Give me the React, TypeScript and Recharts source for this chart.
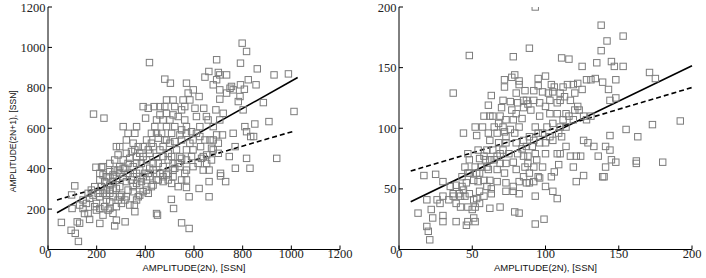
import React from 'react';
import {
  ScatterChart,
  Scatter,
  XAxis,
  YAxis,
  ReferenceLine,
  Label,
} from 'recharts';

// left panel: amplitude (2N) vs (2N+1), SSN
const leftPoints: [number, number][] = [
  [55, 134], [95, 95], [112, 80], [125, 40], [110, 315], [97, 270], [99, 203], [120, 137], [130, 130],
  [150, 178], [171, 149], [187, 670], [230, 650], [197, 407], [220, 407], [213, 129], [199, 228],
  [213, 261], [240, 245], [254, 278], [267, 179], [281, 145], [274, 117], [317, 137], [357, 187],
  [355, 220], [417, 925], [480, 843], [503, 823], [446, 178], [450, 170], [507, 248], [516, 203],
  [549, 132], [580, 104], [569, 307], [580, 261], [621, 302], [662, 393], [662, 336], [662, 261],
  [693, 939], [700, 876], [706, 864], [734, 864], [645, 853], [661, 881], [791, 922], [798, 1021],
  [816, 980], [823, 840], [855, 815], [860, 894], [929, 864], [988, 869], [1011, 683], [940, 451],
  [908, 633], [885, 727], [850, 621], [845, 559], [833, 559], [816, 451], [830, 402], [770, 402],
  [745, 460], [769, 509], [761, 575], [809, 608], [816, 583], [802, 691], [789, 757], [791, 815],
  [782, 732], [807, 793], [754, 807], [761, 790], [748, 798], [734, 774], [706, 790], [693, 840],
  [679, 815], [706, 744], [706, 641], [717, 567], [709, 377], [730, 336], [709, 364], [679, 493],
  [672, 443], [638, 393], [638, 460], [627, 509], [645, 542], [666, 542], [679, 542], [700, 526],
  [690, 691], [720, 674], [640, 699], [651, 658], [610, 658], [621, 757], [597, 790], [569, 823],
  [576, 774], [583, 740], [604, 699], [555, 740], [549, 691], [562, 707], [521, 707], [514, 740],
  [487, 740], [480, 707], [460, 707], [436, 707], [391, 707], [412, 699], [401, 650], [364, 608],
  [357, 575], [329, 575], [309, 608], [322, 542], [357, 493], [336, 451], [295, 509], [281, 509],
  [288, 468], [274, 443], [254, 426], [247, 360], [267, 369], [288, 393], [316, 402], [309, 360],
  [329, 377], [343, 344], [364, 327], [384, 336], [398, 377], [418, 402], [432, 426], [446, 460],
  [460, 493], [473, 509], [487, 542], [508, 575], [521, 608], [535, 658], [562, 641], [569, 575],
  [549, 542], [528, 493], [508, 460], [494, 443], [473, 410], [460, 377], [446, 344], [425, 311],
  [412, 278], [391, 286], [371, 261], [350, 286], [329, 294], [302, 269], [281, 302], [254, 319],
  [233, 336], [213, 344], [220, 311], [192, 311], [178, 294], [171, 253], [192, 212], [213, 203],
  [233, 212], [247, 195], [226, 170], [199, 195], [158, 228], [144, 245], [130, 220], [144, 203],
  [165, 178], [254, 236], [267, 261], [288, 245], [316, 245], [336, 220], [364, 245], [377, 269],
  [405, 294], [432, 319], [453, 344], [473, 360], [494, 377], [514, 393], [542, 410], [569, 443],
  [590, 460], [596, 493], [583, 526], [569, 493], [542, 460], [514, 426], [494, 476], [473, 460],
  [453, 426], [432, 393], [412, 377], [391, 360], [377, 393], [364, 426], [377, 476], [391, 509],
  [405, 542], [425, 575], [439, 608], [446, 641], [460, 666], [473, 641], [487, 608], [501, 641],
  [514, 666], [487, 674], [446, 575], [425, 526], [412, 493], [391, 460], [371, 509], [350, 526],
  [343, 485], [322, 476], [309, 443], [295, 410], [274, 393], [254, 385], [240, 360], [226, 369],
  [213, 377], [226, 410], [206, 278], [226, 278], [240, 294], [267, 294], [295, 311], [322, 336],
  [350, 360], [364, 377], [562, 377], [549, 344], [569, 344], [535, 311], [569, 393], [596, 410],
  [617, 426], [631, 451], [652, 468], [652, 426], [672, 501], [693, 567], [700, 476], [679, 608],
  [658, 641], [624, 608], [610, 575], [624, 559], [596, 542], [590, 583], [569, 608], [549, 592],
  [542, 567], [521, 534], [501, 526], [480, 542], [467, 575], [453, 551], [432, 509], [418, 476],
  [405, 443], [384, 426], [364, 460], [350, 410], [329, 426], [309, 402], [295, 377], [281, 352],
  [267, 336], [254, 294], [240, 269], [295, 261], [322, 261], [350, 311], [377, 319], [405, 344],
  [418, 360], [446, 377], [473, 336], [494, 344], [514, 360], [487, 369], [508, 327], [521, 402],
  [535, 426], [549, 451], [281, 212], [302, 228], [254, 203], [185, 269], [165, 278],
];

// right panel
const rightPoints: [number, number][] = [
  [13, 30], [17, 61], [19, 19], [20, 15], [21, 8], [25, 62], [30, 56], [37, 129], [44, 96], [48, 160],
  [30, 28], [30, 23], [23, 26], [22, 33], [19, 41], [26, 41], [28, 38], [30, 44], [34, 41], [37, 44],
  [39, 38], [42, 35], [39, 23], [41, 46], [43, 52], [46, 55], [47, 35], [50, 33], [46, 20], [47, 23],
  [51, 26], [52, 23], [53, 42], [55, 48], [54, 56], [51, 57], [48, 63], [52, 68], [55, 75], [54, 82],
  [53, 94], [52, 101], [57, 101], [58, 110], [61, 119], [63, 127], [62, 110], [61, 96], [62, 90],
  [60, 82], [59, 74], [61, 66], [62, 57], [63, 50], [62, 34], [63, 46], [69, 35], [67, 56], [67, 66],
  [65, 74], [69, 79], [68, 88], [67, 96], [68, 104], [69, 110], [70, 117], [71, 123], [72, 140],
  [72, 134], [77, 142], [79, 144], [78, 159], [82, 139], [82, 136], [89, 166], [80, 129], [76, 122],
  [77, 115], [73, 107], [72, 97], [73, 88], [75, 79], [73, 71], [72, 63], [73, 55], [73, 48], [78, 48],
  [78, 52], [82, 46], [79, 31], [82, 30], [82, 56], [80, 66], [78, 72], [81, 79], [80, 88], [79, 96],
  [82, 101], [84, 108], [85, 117], [87, 123], [86, 131], [88, 120], [90, 115], [92, 131], [95, 141],
  [95, 135], [100, 143], [98, 130], [96, 110], [93, 101], [89, 93], [87, 85], [88, 77], [88, 71],
  [89, 63], [92, 56], [89, 55], [95, 60], [93, 44], [93, 21], [99, 25], [96, 59], [100, 52], [98, 68],
  [100, 79], [96, 88], [98, 96], [101, 101], [103, 112], [103, 123], [104, 136], [106, 134], [108, 121],
  [110, 123], [111, 158], [116, 157], [112, 134], [115, 136], [120, 129], [125, 151], [125, 132],
  [128, 140], [131, 140], [134, 141], [135, 154], [138, 164], [138, 185], [139, 138], [142, 172],
  [143, 132], [144, 123], [145, 155], [147, 151], [148, 140], [148, 125], [153, 176], [153, 151],
  [155, 99], [163, 93], [162, 73], [162, 71], [171, 146], [173, 103], [175, 141], [180, 72], [192, 106],
  [93, 200], [144, 94], [141, 85], [144, 82], [145, 74], [148, 72], [141, 68], [140, 60], [139, 60],
  [136, 77], [133, 85], [129, 88], [126, 90], [121, 77], [124, 77], [121, 56], [126, 61], [119, 68],
  [117, 77], [114, 85], [110, 79], [109, 70], [106, 64], [104, 60], [105, 48], [108, 42], [108, 79],
  [105, 90], [109, 96], [111, 93], [114, 101], [116, 110], [120, 115], [122, 118], [123, 115],
  [126, 110], [119, 107], [117, 123], [114, 112], [112, 107], [110, 101], [108, 112], [105, 104],
  [103, 93], [100, 88], [95, 96], [92, 90], [91, 85], [93, 79], [94, 74], [85, 90], [84, 83], [85, 77],
  [86, 68], [85, 60], [87, 55], [92, 68], [73, 93], [71, 82], [69, 71], [67, 77], [64, 82], [62, 74],
  [60, 68], [58, 77], [56, 68], [55, 63], [53, 63], [58, 57], [60, 52], [58, 44], [55, 38], [52, 35],
  [51, 41], [48, 46], [45, 44], [44, 49], [42, 44], [37, 46], [35, 52], [39, 53], [43, 60], [47, 63],
  [45, 68], [48, 74], [47, 79], [65, 101], [64, 110], [71, 101], [76, 99], [78, 107], [80, 112],
  [81, 121], [85, 123], [92, 123], [96, 121], [100, 118], [102, 129], [105, 130], [110, 129],
  [113, 126], [119, 136], [122, 137], [128, 107], [131, 110],
];

// fitted lines (end points)
const leftSolid = [{ x: 37, y: 182 }, { x: 1026, y: 851 }];
const leftDashed = [{ x: 37, y: 245 }, { x: 1015, y: 587 }];
const rightSolid = [{ x: 8, y: 39.4 }, { x: 200, y: 151.5 }];
const rightDashed = [{ x: 8, y: 64.7 }, { x: 200, y: 133.6 }];

const leftTicks = [0, 200, 400, 600, 800, 1000, 1200];
const rightTicks = [0, 50, 100, 150, 200];

const xLabel = 'AMPLITUDE(2N), [SSN]';
const yLabel = 'AMPLITUDE(2N+1), [SSN]';

const tickFont = { fill: '#222', fontSize: 12.5, fontFamily: '"Liberation Serif", serif' };
const labelFont = { fill: '#111', fontFamily: '"Liberation Sans", Arial, sans-serif' };

const Square = (props: any) => {
  const { cx, cy } = props;
  if (cx == null || cy == null) return null;
  return <rect x={cx - 3.2} y={cy - 3.2} width={6.4} height={6.4} fill="none" stroke="#7c7c7c" strokeWidth={1} />;
};

const toData = (pts: [number, number][]) => pts.map(([x, y]) => ({ x, y }));

interface PanelProps {
  points: [number, number][];
  ticks: number[];
  max: number;
  solid: { x: number; y: number }[];
  dashed: { x: number; y: number }[];
  yAxisWidth: number;
  marginRight: number;
  showYLabel: boolean;
}

const Panel: React.FC<PanelProps> = ({ points, ticks, max, solid, dashed, yAxisWidth, marginRight, showYLabel }) => {
  const axisCommon = {
    type: 'number' as const,
    domain: [0, max],
    ticks,
    allowDataOverflow: true,
    stroke: '#000',
    tickSize: -4,
  };
  return (
    <ScatterChart width={353} height={278} margin={{ top: 7, right: marginRight, left: 0, bottom: 0 }}>
      <XAxis {...axisCommon} dataKey="x" xAxisId="b" height={28.5} tickMargin={4} tick={tickFont}>
        <Label value={xLabel} position="center" dy={4} style={{ ...labelFont, fontSize: 9.5 }} />
      </XAxis>
      <XAxis {...axisCommon} xAxisId="t" orientation="top" height={0} tick={false} />
      <YAxis {...axisCommon} dataKey="y" yAxisId="l" width={yAxisWidth} tickMargin={6.5} tick={tickFont}>
        {showYLabel && (
          <Label value={yLabel} position="center" angle={-90} dx={-11} dy={13} style={{ ...labelFont, fontSize: 8.5 }} />
        )}
      </YAxis>
      <YAxis {...axisCommon} yAxisId="r" orientation="right" width={0} tick={false} />
      <Scatter
        data={toData(points)}
        xAxisId="b"
        yAxisId="l"
        shape={Square}
        isAnimationActive={false}
      />
      <ReferenceLine xAxisId="b" yAxisId="l" segment={solid} stroke="#000" strokeWidth={1.6} />
      <ReferenceLine xAxisId="b" yAxisId="l" segment={dashed} stroke="#000" strokeWidth={1.6} strokeDasharray="5 3" />
    </ScatterChart>
  );
};

export default function App() {
  return (
    <div style={{ position: 'absolute', left: 0, top: 0, width: 706, height: 278, background: '#fff' }}>
      <div style={{ position: 'absolute', left: 0, top: 0 }}>
        <Panel
          points={leftPoints}
          ticks={leftTicks}
          max={1200}
          solid={leftSolid}
          dashed={leftDashed}
          yAxisWidth={48}
          marginRight={13}
          showYLabel
        />
      </div>
      <div style={{ position: 'absolute', left: 353, top: 0 }}>
        <Panel
          points={rightPoints}
          ticks={rightTicks}
          max={200}
          solid={rightSolid}
          dashed={rightDashed}
          yAxisWidth={46}
          marginRight={14}
          showYLabel={false}
        />
      </div>
    </div>
  );
}
